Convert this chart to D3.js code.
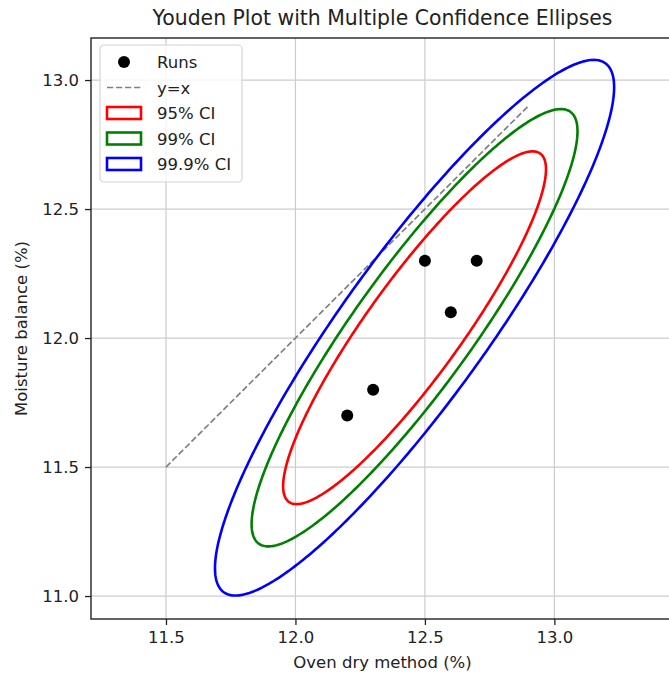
<!DOCTYPE html>
<html>
<head>
<meta charset="utf-8">
<script src="https://cdn.jsdelivr.net/npm/d3@7"></script>
<style>
body { margin: 0; background: #fff; }
svg { display: block; font-family: "DejaVu Sans", sans-serif; }
</style>
</head>
<body>
<script>
var w = 669;
var h = 675;

// runs
var ovenDry = [12.2, 12.3, 12.5, 12.6, 12.7];
var moisture = [11.7, 11.8, 12.3, 12.1, 12.3];

// confidence ellipses
var ciLabels = ["95% CI", "99% CI", "99.9% CI"];
var ciLevels = [0.95, 0.99, 0.999];
var ciColors = ["red", "green", "blue"];

// reference line y=x
var refLine = [11.5, 12.9];

var xTicks = [11.5, 12.0, 12.5, 13.0];
var yTicks = [11.0, 11.5, 12.0, 12.5, 13.0];

var m = {left: 91, top: 38, right: 674, bottom: 619};

var x = d3.scaleLinear().domain([11.2104, 13.462]).range([m.left, m.right]);
var y = d3.scaleLinear().domain([10.911, 13.163]).range([m.bottom, m.top]);

var svg = d3.select("body").append("svg")
    .attr("width", w)
    .attr("height", h);

svg.append("defs").append("clipPath").attr("id", "clip")
    .append("rect")
    .attr("x", m.left).attr("y", m.top)
    .attr("width", m.right - m.left).attr("height", m.bottom - m.top);

// grid
var grid = svg.append("g");
grid.selectAll(".gx").data(xTicks).enter().append("line")
    .attr("x1", function(d) { return x(d); }).attr("x2", function(d) { return x(d); })
    .attr("y1", m.top).attr("y2", m.bottom)
    .attr("stroke", "#cccccc").attr("stroke-width", 1.2);
grid.selectAll(".gy").data(yTicks).enter().append("line")
    .attr("y1", function(d) { return y(d); }).attr("y2", function(d) { return y(d); })
    .attr("x1", m.left).attr("x2", m.right)
    .attr("stroke", "#cccccc").attr("stroke-width", 1.2);

// covariance of the runs -> ellipse
var mx = d3.mean(ovenDry), my = d3.mean(moisture);
var n = ovenDry.length;
var sxx = 0, syy = 0, sxy = 0;
for (var i = 0; i < n; i++) {
    var dx = ovenDry[i] - mx, dy = moisture[i] - my;
    sxx += dx * dx; syy += dy * dy; sxy += dx * dy;
}
sxx /= (n - 1); syy /= (n - 1); sxy /= (n - 1);
var tr = sxx + syy, det = sxx * syy - sxy * sxy;
var l1 = tr / 2 + Math.sqrt(tr * tr / 4 - det);
var l2 = tr / 2 - Math.sqrt(tr * tr / 4 - det);
var ang = Math.atan2(l1 - sxx, sxy);

function ellipsePts(p) {
    var k = -2 * Math.log(1 - p); // chi2, 2 dof
    var a = Math.sqrt(k * l1), b = Math.sqrt(k * l2);
    var pts = [];
    for (var t = 0; t <= 360; t++) {
        var th = t * Math.PI / 180;
        var ex = a * Math.cos(th), ey = b * Math.sin(th);
        pts.push([mx + ex * Math.cos(ang) - ey * Math.sin(ang),
                  my + ex * Math.sin(ang) + ey * Math.cos(ang)]);
    }
    return pts;
}

var line = d3.line().x(function(d) { return x(d[0]); }).y(function(d) { return y(d[1]); });

var plot = svg.append("g").attr("clip-path", "url(#clip)");

plot.append("path")
    .attr("d", line(refLine.map(function(v) { return [v, v]; })))
    .attr("fill", "none").attr("stroke", "gray")
    .attr("stroke-width", 1.7).attr("stroke-dasharray", "6.3,2.7");

plot.selectAll(".ell").data(ciLevels).enter().append("path")
    .attr("d", function(d) { return line(ellipsePts(d)); })
    .attr("fill", "none")
    .attr("stroke", function(d, i) { return ciColors[i]; })
    .attr("stroke-width", 2.6);

plot.selectAll("circle").data(ovenDry).enter().append("circle")
    .attr("cx", function(d) { return x(d); })
    .attr("cy", function(d, i) { return y(moisture[i]); })
    .attr("r", 6)
    .attr("fill", "black");

// frame
svg.append("rect")
    .attr("x", m.left).attr("y", m.top)
    .attr("width", m.right - m.left).attr("height", m.bottom - m.top)
    .attr("fill", "none").attr("stroke", "#222").attr("stroke-width", 1.4);

// axes
var xAxis = svg.append("g").attr("transform", "translate(0," + m.bottom + ")")
    .call(d3.axisBottom(x).tickValues(xTicks).tickFormat(d3.format(".1f")).tickSizeOuter(0).tickSize(6).tickPadding(6));
var yAxis = svg.append("g").attr("transform", "translate(" + m.left + ",0)")
    .call(d3.axisLeft(y).tickValues(yTicks).tickFormat(d3.format(".1f")).tickSizeOuter(0).tickSize(6).tickPadding(6));
[xAxis, yAxis].forEach(function(a) {
    a.select(".domain").remove();
    a.selectAll("text").attr("font-size", 16.5).attr("fill", "#222")
        .attr("font-family", "DejaVu Sans, sans-serif");
    a.selectAll("line").attr("stroke", "#222").attr("stroke-width", 1.3);
});

svg.append("text")
    .attr("x", (m.left + m.right) / 2).attr("y", 25)
    .attr("text-anchor", "middle").attr("font-size", 20.4).attr("fill", "#222")
    .text("Youden Plot with Multiple Confidence Ellipses");

svg.append("text")
    .attr("x", (m.left + m.right) / 2).attr("y", 668)
    .attr("text-anchor", "middle").attr("font-size", 16.5).attr("fill", "#222")
    .text("Oven dry method (%)");

svg.append("text")
    .attr("transform", "translate(27," + ((m.top + m.bottom) / 2) + ") rotate(-90)")
    .attr("text-anchor", "middle").attr("font-size", 16.5).attr("fill", "#222")
    .text("Moisture balance (%)");

// legend
var lg = svg.append("g").attr("transform", "translate(100,45)");
lg.append("rect").attr("width", 142).attr("height", 137).attr("rx", 4)
    .attr("fill", "white").attr("fill-opacity", 0.8).attr("stroke", "#d4d4d4").attr("stroke-width", 1.2);
var rowY = [17, 42.5, 68, 93.5, 119];
lg.append("circle").attr("cx", 24).attr("cy", rowY[0]).attr("r", 6).attr("fill", "black");
lg.append("line").attr("x1", 7).attr("x2", 41).attr("y1", rowY[1]).attr("y2", rowY[1])
    .attr("stroke", "gray").attr("stroke-width", 1.7).attr("stroke-dasharray", "6.3,2.7");
ciLabels.forEach(function(lab, i) {
    lg.append("rect").attr("x", 7).attr("y", rowY[i + 2] - 6).attr("width", 34).attr("height", 12)
        .attr("fill", "none").attr("stroke", ciColors[i]).attr("stroke-width", 2.6);
});
var legendLabels = ["Runs", "y=x"].concat(ciLabels);
lg.selectAll(".lt").data(legendLabels).enter().append("text")
    .attr("x", 57).attr("y", function(d, i) { return rowY[i] + 6; })
    .attr("font-size", 16.5).attr("fill", "#222")
    .text(function(d) { return d; });
</script>
</body>
</html>
